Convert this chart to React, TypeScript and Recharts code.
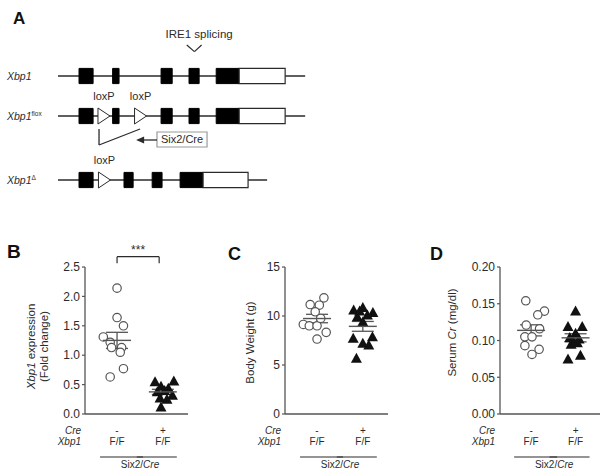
import React from "react";
import {
  ScatterChart,
  Scatter,
  XAxis,
  YAxis,
  ErrorBar,
  ReferenceArea,
  ReferenceLine,
  ReferenceDot,
} from "recharts";

const FONT = "'Liberation Sans', Arial, Helvetica, sans-serif";
const INK = "#2b2b2b";
const AXIS = "#555";

// ---------- panel A: Xbp1 alleles (positions in map units along the locus)
const rowPos = [0, 1, 2.6];
const lineEnds = [100, 100, 84.6];
const codingExons = [
  [[8.5, 14.2], [22.1, 24.7], [41.7, 46.2], [53.0, 57.1], [64.0, 73.3]],
  [[8.5, 14.2], [22.1, 24.7], [41.7, 46.2], [53.0, 57.1], [64.0, 73.3]],
  [[8.5, 14.2], [26.7, 30.4], [38.1, 42.1], [49.4, 58.7]],
];
const utrExons = [[73.3, 91.9], [73.3, 91.9], [58.7, 76.9]];
const loxSites = [[], [18.6, 33.4], [18.8]];

// ---------- panels B-D: per-animal values
const groupSign = ["-", "+"];
const groupGeno = ["F/F", "F/F"];

const bCtrl = [2.14, 1.64, 1.5, 1.31, 1.22, 1.13, 1.13, 1.05, 0.77, 0.63];
const bCtrlSpread = [0, 0, 0.14, -0.3, -0.15, -0.12, 0.1, 0.07, 0.14, -0.15];
const bKo = [0.55, 0.56, 0.47, 0.44, 0.38, 0.4, 0.32, 0.27, 0.25, 0.12];
const bKoSpread = [-0.17, 0.24, -0.04, 0.12, -0.12, 0.04, 0.21, -0.06, 0.09, -0.04];
const bTicks = [0, 0.5, 1, 1.5, 2, 2.5];

const cCtrl = [11.85, 11.17, 11.1, 10.43, 9.14, 9.0, 9.0, 8.33, 7.65, 9.75];
const cCtrlSpread = [0.15, -0.15, 0.05, -0.04, -0.3, -0.17, 0, 0.2, 0, 0.08];
const cKo = [10.87, 10.6, 10.36, 9.92, 10.1, 9.41, 7.72, 7.89, 7.21, 7.04, 5.69, 10.5];
const cKoSpread = [0, -0.2, 0.22, -0.12, 0.1, 0, -0.21, 0.21, 0, 0.13, -0.14, -0.07];
const cTicks = [0, 5, 10, 15];

const dCtrl = [0.154, 0.14, 0.135, 0.121, 0.116, 0.105, 0.105, 0.093, 0.088, 0.081];
const dCtrlSpread = [-0.12, 0.3, 0.15, -0.11, 0.19, -0.14, 0.02, -0.14, 0.18, 0.02];
const dKo = [0.14, 0.119, 0.119, 0.11, 0.104, 0.102, 0.099, 0.097, 0.095, 0.08, 0.075];
const dKoSpread = [0, -0.17, 0.15, 0, -0.13, 0.08, -0.05, 0.04, -0.1, 0.11, -0.17];
const dTicks = [0, 0.05, 0.1, 0.15, 0.2];

const mean = (a: number[]) => a.reduce((s, v) => s + v, 0) / a.length;
const sem = (a: number[]) => {
  const m = mean(a);
  const sd = Math.sqrt(a.reduce((s, v) => s + (v - m) ** 2, 0) / (a.length - 1));
  return sd / Math.sqrt(a.length);
};
const toPoints = (vals: number[], spread: number[], g: number) =>
  vals.map((v, i) => ({ x: g + spread[i], y: v }));

const EXON_H = 0.19;
const BACKBONE = 0.016;

const GeneTick = (props: any) => {
  const { x, y, index } = props;
  const sup = ["", "flox", "\u0394"][index];
  return (
    <text x={x - 51} y={y + 4} fontFamily={FONT} fontSize={10.5} fontStyle="italic" fill={INK}>
      Xbp1
      {sup && (
        <tspan fontSize={6.5} dy={-4} fontStyle="normal">
          {sup}
        </tspan>
      )}
    </text>
  );
};

const LoxShape = (props: any) => {
  const { cx, cy } = props;
  return (
    <g>
      <polygon
        points={`${cx - 6},${cy - 8} ${cx + 6},${cy} ${cx - 6},${cy + 8}`}
        fill="#fff"
        stroke={INK}
        strokeWidth={1}
      />
      <text x={cx} y={cy - 16} textAnchor="middle" fontFamily={FONT} fontSize={11} fill={INK}>
        loxP
      </text>
    </g>
  );
};

const ArrowShape = (props: any) => {
  const { x1, y1, x2, y2 } = props;
  const dir = x2 < x1 ? 1 : -1;
  return (
    <g>
      <line x1={x1} y1={y1} x2={x2 + dir * 6} y2={y2} stroke={INK} strokeWidth={1.3} />
      <polygon points={`${x2},${y2} ${x2 + dir * 8},${y2 - 3.5} ${x2 + dir * 8},${y2 + 3.5}`} fill={INK} />
    </g>
  );
};

function GenePanel() {
  const loxPoints = loxSites.flatMap((xs, i) => xs.map((x) => ({ x, y: rowPos[i] })));
  return (
    <ScatterChart width={320} height={200} margin={{ top: 0, right: 0, bottom: 0, left: 0 }}>
      <XAxis type="number" dataKey="x" domain={[0, 106]} hide />
      <YAxis
        type="number"
        dataKey="y"
        domain={[-1.9, 3.1]}
        reversed
        ticks={rowPos}
        interval={0}
        width={58}
        axisLine={false}
        tickLine={false}
        tickSize={0}
        tickMargin={0}
        tick={(p: any) => <GeneTick {...p} />}
      />
      {rowPos.map((r, i) => (
        <ReferenceArea
          key={`bb${i}`}
          x1={0}
          x2={lineEnds[i]}
          y1={r - BACKBONE}
          y2={r + BACKBONE}
          fill={INK}
          fillOpacity={1}
          stroke="none"
        />
      ))}
      {codingExons.flatMap((row, i) =>
        row.map(([a, b], j) => (
          <ReferenceArea
            key={`ex${i}-${j}`}
            x1={a}
            x2={b}
            y1={rowPos[i] - EXON_H}
            y2={rowPos[i] + EXON_H}
            fill="#000"
            fillOpacity={1}
            stroke="#000"
          />
        ))
      )}
      {utrExons.map(([a, b], i) => (
        <ReferenceArea
          key={`utr${i}`}
          x1={a}
          x2={b}
          y1={rowPos[i] - EXON_H}
          y2={rowPos[i] + EXON_H}
          fill="#fff"
          fillOpacity={1}
          stroke={INK}
          strokeWidth={1.2}
        />
      ))}
      {/* IRE1 splice site */}
      <ReferenceLine segment={[{ x: 52.1, y: -0.775 }, { x: 55.2, y: -0.61 }]} stroke={INK} strokeWidth={1.2} />
      <ReferenceLine segment={[{ x: 55.2, y: -0.61 }, { x: 58.1, y: -0.775 }]} stroke={INK} strokeWidth={1.2} />
      <ReferenceDot
        x={57.1}
        y={-1.05}
        r={0}
        stroke="none"
        label={{ value: "IRE1 splicing", position: "center", fontSize: 11.5, fill: INK, fontFamily: FONT }}
      />
      {/* Cre excision */}
      <ReferenceLine segment={[{ x: 16.6, y: 1.325 }, { x: 16.6, y: 1.725 }]} stroke={INK} strokeWidth={1.3} />
      <ReferenceLine segment={[{ x: 16.6, y: 1.725 }, { x: 33.2, y: 1.325 }]} stroke={INK} strokeWidth={1.3} />
      <ReferenceLine
        segment={[{ x: 40.05, y: 1.6 }, { x: 31.6, y: 1.6 }]}
        shape={(p: any) => <ArrowShape {...p} />}
      />
      <ReferenceArea
        x1={40.05}
        x2={60.3}
        y1={1.4}
        y2={1.775}
        fill="#fff"
        fillOpacity={1}
        stroke="#9a9a9a"
        strokeWidth={1.2}
        label={{ value: "Six2/Cre", position: "center", fontSize: 11, fill: INK, fontFamily: FONT }}
      />
      <Scatter data={loxPoints} shape={(p: any) => <LoxShape {...p} />} isAnimationActive={false} />
    </ScatterChart>
  );
}

const GroupTick = (props: any) => {
  const { x, y, index } = props;
  return (
    <g fontFamily={FONT} fontSize={10} fill={INK}>
      {index === 0 && (
        <>
          <text x={x - 36} y={y + 20} textAnchor="end" fontStyle="italic" fill={INK}>
            Cre
          </text>
          <text x={x - 36} y={y + 31} textAnchor="end" fontStyle="italic" fill={INK}>
            Xbp1
          </text>
          <line x1={x - 17} x2={x + 26} y1={y + 43} y2={y + 43} stroke={INK} strokeWidth={1.2} />
          <text x={x + 23} y={y + 54} textAnchor="middle" fill={INK}>
            Six2/<tspan fontStyle="italic">Cre</tspan>
          </text>
        </>
      )}
      {index === 1 && <line x1={x - 26} x2={x + 14} y1={y + 43} y2={y + 43} stroke={INK} strokeWidth={1.2} />}
      <text x={x} y={y + 20} textAnchor="middle" fill={INK}>
        {groupSign[index]}
      </text>
      <text x={x} y={y + 31} textAnchor="middle" fill={INK}>
        {groupGeno[index]}
      </text>
    </g>
  );
};

const YTitle = (props: any) => {
  const { viewBox, lines, dx, dy } = props;
  const vb = viewBox || { x: 0, y: 0, width: 0, height: 0 };
  const cy = vb.y + vb.height / 2 + dy;
  return (
    <g>
      {lines.map((ln: React.ReactNode, i: number) => {
        const cx = vb.x + dx[i];
        return (
          <text
            key={i}
            x={cx}
            y={cy}
            transform={`rotate(-90 ${cx} ${cy})`}
            textAnchor="middle"
            dominantBaseline="central"
            fontFamily={FONT}
            fontSize={11.5}
            fill={INK}
          >
            {ln}
          </text>
        );
      })}
    </g>
  );
};

const Circle = (p: any) => (
  <circle cx={p.cx} cy={p.cy} r={4.2} fill="#fff" stroke={AXIS} strokeWidth={1.2} />
);
const Triangle = (p: any) => (
  <polygon points={`${p.cx},${p.cy - 5.5} ${p.cx - 5.5},${p.cy + 4.5} ${p.cx + 5.5},${p.cy + 4.5}`} fill="#111" />
);
const MeanLine = (p: any) => (
  <line x1={p.cx - 14} x2={p.cx + 14} y1={p.cy} y2={p.cy} stroke={AXIS} strokeWidth={1.4} />
);

type PanelProps = {
  left: number;
  width: number;
  yWidth: number;
  right: number;
  ticks: number[];
  digits: number;
  ctrl: number[];
  ctrlSpread: number[];
  ko: number[];
  koSpread: number[];
  title: React.ReactNode[];
  titleDx: number[];
  titleDy: number;
  children?: React.ReactNode;
};

function DotPanel(props: PanelProps) {
  const { left, width, yWidth, right, ticks, digits, ctrl, ctrlSpread, ko, koSpread } = props;
  const means = [
    { x: 1, y: mean(ctrl), err: sem(ctrl) },
    { x: 2, y: mean(ko), err: sem(ko) },
  ];
  return (
    <div style={{ position: "absolute", left, top: 230 }}>
      <ScatterChart width={width} height={244} margin={{ top: 37, right, bottom: 0, left: 0 }}>
        <XAxis
          type="number"
          dataKey="x"
          domain={[0.3, 2.55]}
          ticks={[1, 2]}
          interval={0}
          height={60}
          axisLine={{ stroke: AXIS, strokeWidth: 1.3 }}
          tickLine={false}
          tickSize={0}
          tickMargin={0}
          tick={(p: any) => <GroupTick {...p} />}
        />
        <YAxis
          type="number"
          dataKey="y"
          domain={[ticks[0], ticks[ticks.length - 1]]}
          ticks={ticks}
          interval={0}
          width={yWidth}
          axisLine={{ stroke: AXIS, strokeWidth: 1.3 }}
          tickLine={{ stroke: AXIS, strokeWidth: 1.2 }}
          tickSize={3}
          tickMargin={2}
          tick={{ fontSize: 12, fill: INK, fontFamily: FONT }}
          tickFormatter={(v: number) => v.toFixed(digits)}
          label={<YTitle lines={props.title} dx={props.titleDx} dy={props.titleDy} />}
        />
        <Scatter data={toPoints(ctrl, ctrlSpread, 1)} shape={Circle} isAnimationActive={false} />
        <Scatter data={toPoints(ko, koSpread, 2)} shape={Triangle} isAnimationActive={false} />
        <Scatter data={means} shape={MeanLine} isAnimationActive={false}>
          <ErrorBar dataKey="err" direction="y" width={11} stroke={AXIS} strokeWidth={1.3} />
        </Scatter>
        {props.children}
      </ScatterChart>
    </div>
  );
}

export default function App() {
  return (
    <div
      style={{
        position: "absolute",
        left: 0,
        top: 0,
        width: 600,
        height: 474,
        background: "#fff",
        overflow: "hidden",
        fontFamily: FONT,
      }}
    >
      <div style={{ position: "absolute", left: 0, top: 0 }}>
        <GenePanel />
      </div>

      <DotPanel
        left={0}
        width={190}
        yWidth={85}
        right={2}
        ticks={bTicks}
        digits={1}
        ctrl={bCtrl}
        ctrlSpread={bCtrlSpread}
        ko={bKo}
        koSpread={bKoSpread}
        title={[
          <>
            <tspan fontStyle="italic">Xbp1</tspan> expression
          </>,
          "(Fold change)",
        ]}
        titleDx={[31, 44]}
        titleDy={6}
      >
        <ReferenceLine ifOverflow="visible" segment={[{ x: 1, y: 2.563 }, { x: 1, y: 2.675 }]} stroke={INK} strokeWidth={1.2} />
        <ReferenceLine ifOverflow="visible" segment={[{ x: 1, y: 2.675 }, { x: 1.92, y: 2.675 }]} stroke={INK} strokeWidth={1.2} />
        <ReferenceLine ifOverflow="visible" segment={[{ x: 1.92, y: 2.675 }, { x: 1.92, y: 2.563 }]} stroke={INK} strokeWidth={1.2} />
        <ReferenceDot
          ifOverflow="visible"
          x={1.46}
          y={2.675}
          r={0}
          stroke="none"
          label={{ value: "***", position: "top", offset: 3, fontSize: 12, fill: INK, fontFamily: FONT }}
        />
      </DotPanel>

      <DotPanel
        left={190}
        width={200}
        yWidth={95}
        right={2}
        ticks={cTicks}
        digits={0}
        ctrl={cCtrl}
        ctrlSpread={cCtrlSpread}
        ko={cKo}
        koSpread={cKoSpread}
        title={["Body Weight (g)"]}
        titleDx={[60]}
        titleDy={2}
      />

      <DotPanel
        left={400}
        width={200}
        yWidth={100}
        right={0}
        ticks={dTicks}
        digits={2}
        ctrl={dCtrl}
        ctrlSpread={dCtrlSpread}
        ko={dKo}
        koSpread={dKoSpread}
        title={[
          <>
            Serum <tspan fontStyle="italic">Cr</tspan> (mg/dl)
          </>,
        ]}
        titleDx={[52]}
        titleDy={-8}
      />

      <svg
        width={600}
        height={474}
        style={{ position: "absolute", left: 0, top: 0, pointerEvents: "none" }}
      >
        <g fontFamily={FONT} fontWeight="bold" fill="#111">
          <text x={13} y={24} fontSize={17}>A</text>
          <text x={7} y={258} fontSize={19}>B</text>
          <text x={228} y={260} fontSize={18}>C</text>
          <text x={430} y={260} fontSize={18}>D</text>
        </g>
      </svg>
    </div>
  );
}
